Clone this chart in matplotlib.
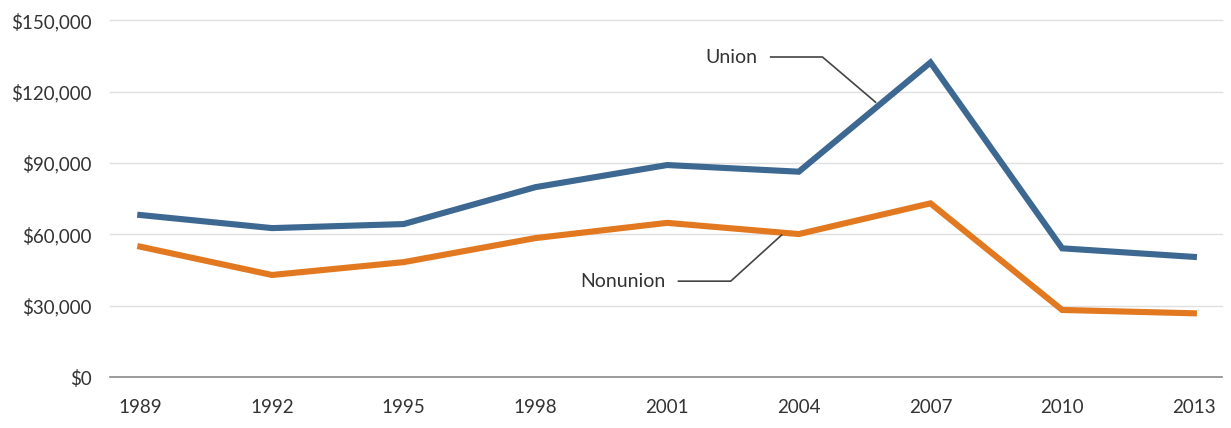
import matplotlib.pyplot as plt
from matplotlib.ticker import FuncFormatter

years = [1989, 1992, 1995, 1998, 2001, 2004, 2007, 2010, 2013]
union = [68100, 62600, 64300, 79800, 89100, 86300, 132200, 54100, 50500]
nonunion = [54800, 42900, 48300, 58400, 64800, 60100, 73000, 28200, 26800]
y_ticks = [0, 30000, 60000, 90000, 120000, 150000]

BLUE = "#3d6891"
ORANGE = "#e2781f"
TEXT = "#333333"

plt.rcParams['font.family'] = ['Lato', 'DejaVu Sans']

fig = plt.figure(figsize=(12.31, 4.28), dpi=100)
ax = fig.add_axes([0.089, 0.119, 0.904, 0.834])

ax.plot(years, union, color=BLUE, linewidth=4.4, solid_joinstyle='miter', zorder=3)
ax.plot(years, nonunion, color=ORANGE, linewidth=4.4, solid_joinstyle='miter', zorder=3)

ax.set_xlim(1988.3, 2013.65)
ax.set_ylim(0, 150000)
ax.set_xticks(years)
ax.set_yticks(y_ticks)
ax.yaxis.set_major_formatter(FuncFormatter(lambda v, p: f"${v:,.0f}"))

for v in y_ticks:
    if v == 0:
        ax.axhline(v, color="#8a8a8a", linewidth=1.2, zorder=1, clip_on=False)
    else:
        ax.axhline(v, color="#e0e0e0", linewidth=1.0, zorder=1, clip_on=False)

for s in ax.spines.values():
    s.set_visible(False)
ax.tick_params(axis='both', length=0, labelsize=13.5, colors=TEXT)
ax.tick_params(axis='y', pad=13)
ax.tick_params(axis='x', pad=16)

# leader lines
ax.plot([2003.36, 2004.54, 2005.75], [134500, 134500, 115500],
        color="#444444", linewidth=1.2, zorder=4)
ax.text(2003.06, 134500, "Union", ha='right', va='center', fontsize=14, color=TEXT)

ax.plot([2001.26, 2002.45, 2003.61], [40300, 40300, 59700],
        color="#444444", linewidth=1.2, zorder=4)
ax.text(2000.96, 40300, "Nonunion", ha='right', va='center', fontsize=14, color=TEXT)

fig.savefig("out.png", dpi=100)
